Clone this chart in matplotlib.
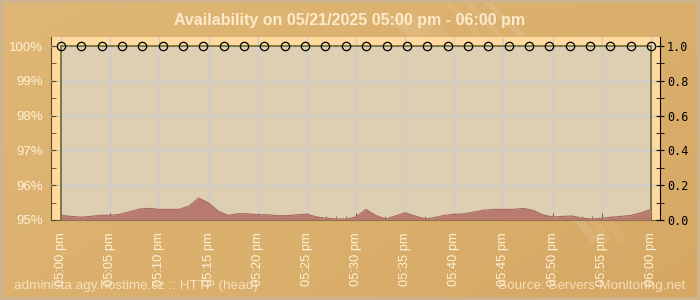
import matplotlib.pyplot as plt
import numpy as np
from matplotlib.patches import Rectangle
from matplotlib.ticker import MultipleLocator, FixedLocator

# minutes after 05:00 pm
minutes = np.arange(0, 61)
resp_time = [0.027, 0.021, 0.016, 0.021, 0.027, 0.027, 0.033, 0.048, 0.063, 0.067,
             0.061, 0.061, 0.061, 0.080, 0.126, 0.098, 0.050, 0.027, 0.036, 0.036,
             0.030, 0.030, 0.025, 0.025, 0.030, 0.034, 0.017, 0.010, 0.006, 0.006,
             0.017, 0.061, 0.027, 0.006, 0.023, 0.042, 0.023, 0.007, 0.013, 0.027,
             0.033, 0.036, 0.046, 0.056, 0.061, 0.061, 0.061, 0.067, 0.056, 0.030,
             0.017, 0.021, 0.023, 0.010, 0.006, 0.010, 0.016, 0.021, 0.027, 0.042,
             0.061]
avail_times = np.linspace(0, 60, 30)
avail = [100.0] * 30
tick_labels = ["05:00 pm", "05:05 pm", "05:10 pm", "05:15 pm", "05:20 pm", "05:25 pm",
               "05:30 pm", "05:35 pm", "05:40 pm", "05:45 pm", "05:50 pm", "05:55 pm",
               "06:00 pm"]
title = "Availability on 05/21/2025 05:00 pm - 06:00 pm"

cream = "#FFF1D6"
olive = "#6E6A2E"

fig = plt.figure(figsize=(7, 3), dpi=100)
fig.patch.set_facecolor("#CFB38D")

# background gradient
bg = fig.add_axes([0.005, 0.01, 0.99, 0.98], zorder=-10)
xx, yy = np.meshgrid(np.linspace(0, 1, 200), np.linspace(0, 1, 100))
c1 = np.array([224, 183, 118]) / 255
c2 = np.array([214, 168, 100]) / 255
w = (0.6 * xx + 0.4 * (1 - yy))[..., None]
img = c1 * (1 - w) + c2 * w
bg.imshow(img, aspect="auto", extent=[0, 1, 0, 1], origin="lower")
# faint swooshes
t = np.linspace(0, 1, 100)
for k, a in enumerate([0.10, 0.08, 0.06]):
    bg.plot(0.55 + 0.3 * t + 0.02 * k, 0.95 - 0.75 * t ** 1.3, color="white", alpha=a, lw=6)
    bg.plot(0.70 + 0.25 * t - 0.03 * k, 1.0 - 0.6 * t, color="white", alpha=a, lw=4)
bg.set_xlim(0, 1)
bg.set_ylim(0, 1)
bg.axis("off")

ax = fig.add_axes([51 / 700, 80 / 300, 609 / 700, 183 / 300])
ax.set_facecolor("#FFD99D")
ax.set_xlim(-1.02, 60.92)
ax.set_ylim(95, 100.26)

ax.add_patch(Rectangle((0, 95), 60, 5, facecolor="#DFCFB2", edgecolor="none", zorder=0.5))
ax.grid(True, color="#C9CCD3", lw=1, zorder=0.6)
ax.set_axisbelow(False)
for gl in ax.get_xgridlines() + ax.get_ygridlines():
    gl.set_zorder(0.6)

ax.plot([0, 0], [95, 100], color=olive, lw=1.2, zorder=3)
ax.plot([60, 60], [95, 100], color=olive, lw=1.2, zorder=3)
ax.plot(avail_times, avail, color=olive, lw=1.2, marker="o", ms=6,
        mfc="none", mec="black", mew=0.9, zorder=5, clip_on=False)

ax.xaxis.set_major_locator(FixedLocator(np.arange(0, 61, 5)))
ax.xaxis.set_minor_locator(FixedLocator(np.arange(0, 61, 1)))
ax.set_xticklabels(tick_labels, rotation=90, color=cream, fontsize=9.3,
                   family="Liberation Sans")
ax.tick_params(axis="x", which="major", direction="in", length=5, color=olive, pad=9)
ax.tick_params(axis="x", which="minor", direction="in", length=3, color=olive)

ax.yaxis.set_major_locator(MultipleLocator(1))
ax.yaxis.set_minor_locator(MultipleLocator(0.5))
ax.set_yticks(np.arange(95, 101, 1))
ax.set_yticklabels([f"{v}%" for v in range(95, 101)], color=cream, fontsize=9.5,
                   family="Liberation Sans")
ax.tick_params(axis="y", which="both", direction="in", length=3.5, color="#5A4A20", pad=6)

ax.spines["top"].set_visible(False)
ax.spines["left"].set_color("#5A4A20")
ax.spines["bottom"].set_color(olive)
ax.spines["right"].set_visible(False)

ax2 = ax.twinx()
ax2.set_ylim(0, 1.0517)
ax2.fill_between(minutes, resp_time, 0, color="#B97B70", lw=0, zorder=2)
ax2.plot(minutes, resp_time, color="#A86A60", lw=0.8, zorder=2)
ax2.set_yticks(np.arange(0, 1.01, 0.2))
ax2.yaxis.set_minor_locator(MultipleLocator(0.1))
ax2.set_yticklabels([f"{v:.1f}" for v in np.arange(0, 1.01, 0.2)],
                    family="DejaVu Sans Mono", fontsize=8.5, color="black")
ax2.tick_params(axis="y", which="both", direction="inout", length=6, color="black", pad=2)
ax2.spines["right"].set_color("black")
ax2.spines["top"].set_visible(False)
ax2.spines["left"].set_visible(False)
ax2.spines["bottom"].set_visible(False)

fig.text(0.5, 0.93, title, ha="center", va="center", color="#FCEBCB", fontsize=11.5,
         fontweight="bold", family="Liberation Sans")
fig.text(14 / 700, 1 - 286 / 300, "administa.agy.hostime.cz :: HTTP (head)", ha="left",
         va="center", color=cream, alpha=0.75, fontsize=9.7, family="Liberation Sans")
fig.text(685 / 700, 1 - 286 / 300, "Source: Servers-Monitoring.net", ha="right",
         va="center", color=cream, alpha=0.75, fontsize=9.7, family="Liberation Sans")

fig.savefig("out.png", dpi=100, facecolor=fig.get_facecolor())
